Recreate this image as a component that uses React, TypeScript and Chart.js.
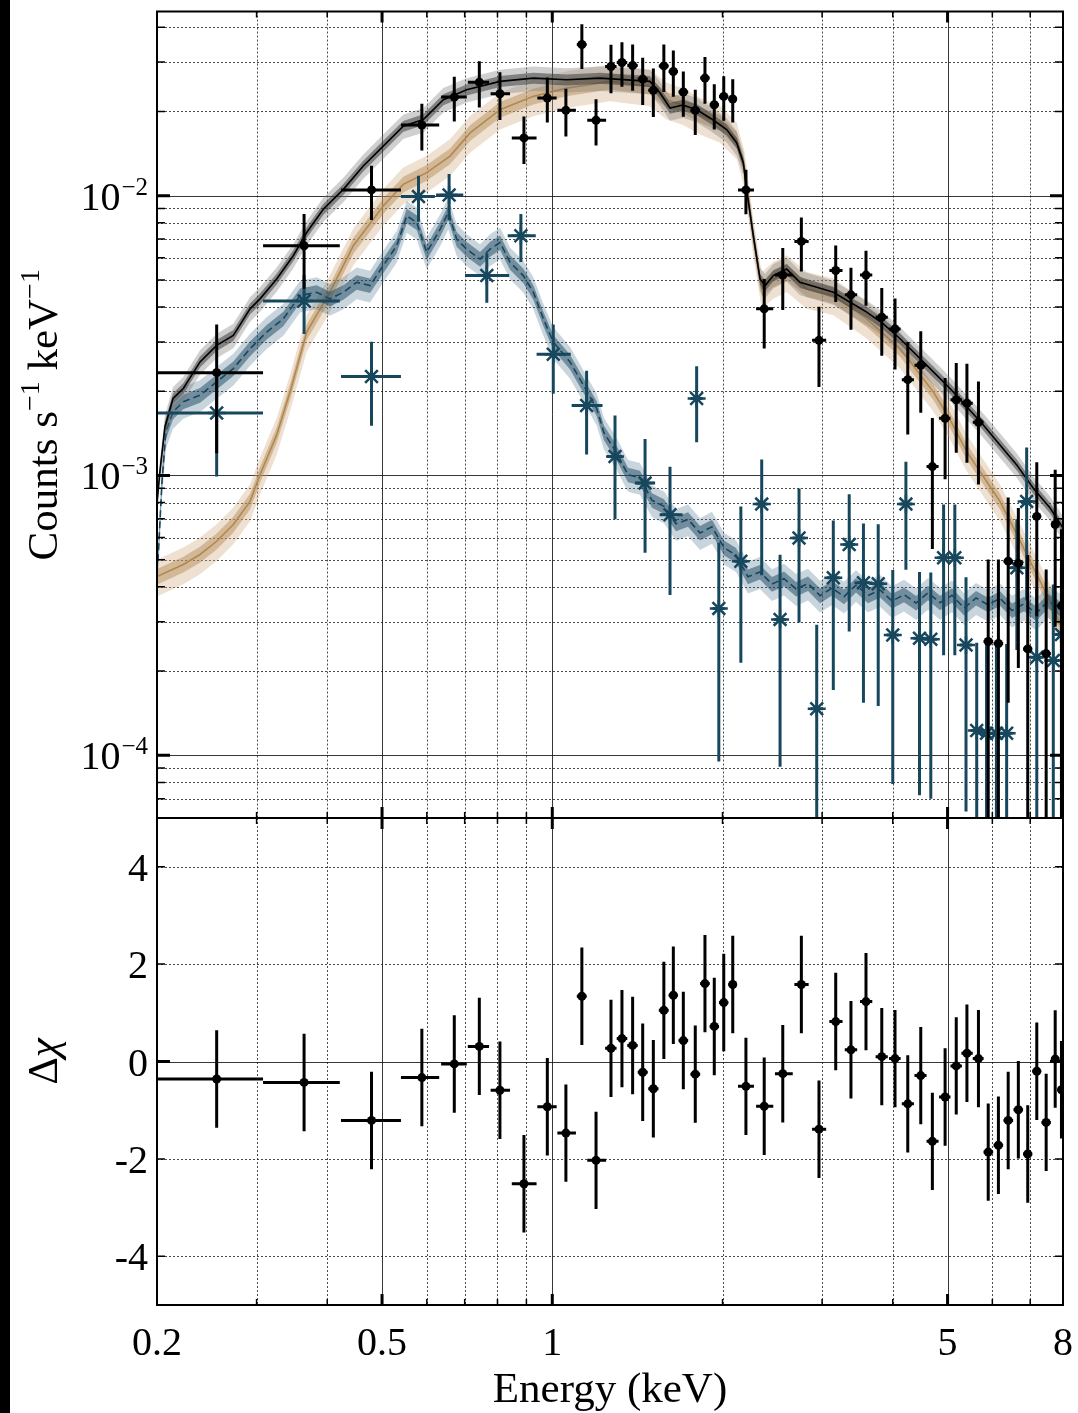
import React, { useEffect, useRef } from "react";
import { Chart, registerables } from "chart.js";

Chart.register(...registerables);

const FONT = "'Liberation Serif', 'DejaVu Serif', serif";
const LABEL_PX = 40;
const SUP_PX = 25;
const TITLE_PX = 43;
const TITLE_SUP_PX = 28;
const BLUE = "#17475d";
const BROWN = "#b08850";

// ---------------- axes ----------------
const X_MIN = 0.2;
const X_MAX = 8;
const Y_MIN = 5.97e-5;
const Y_MAX = 4.55e-2;
const R_MIN = -5;
const R_MAX = 5;

const xMajorTicks = [0.5, 1, 5];
const xMinorTicks = [0.3, 0.4, 0.6, 0.7, 0.8, 0.9, 2, 3, 4, 6, 7];
const xTickLabels = ["0.2", "0.5", "1", "5", "8"];
const xTickValues = [0.2, 0.5, 1, 5, 8];
const yMajorTicks = [1e-4, 1e-3, 1e-2];
const yMinorTicks = [
  7e-5, 8e-5, 9e-5,
  2e-4, 3e-4, 4e-4, 5e-4, 6e-4, 7e-4, 8e-4, 9e-4,
  2e-3, 3e-3, 4e-3, 5e-3, 6e-3, 7e-3, 8e-3, 9e-3,
  2e-2, 3e-2, 4e-2,
];
const yTickExps = [-2, -3, -4];
const rMajorTicks = [0];
const rMinorTicks = [-4, -2, 2, 4];
const rTickValues = [4, 2, 0, -2, -4];
const rTickLabels = ["4", "2", "0", "-2", "-4"];

// ---------------- black data (source) ----------------
const blackE = [0.255, 0.364, 0.479, 0.588, 0.671, 0.743, 0.808, 0.891, 0.98, 1.057, 1.128, 1.195, 1.27, 1.328, 1.387, 1.445, 1.509, 1.575, 1.637, 1.705, 1.79, 1.862, 1.934, 2.01, 2.085, 2.2, 2.37, 2.556, 2.757, 2.962, 3.171, 3.374, 3.587, 3.825, 4.037, 4.252, 4.483, 4.7, 4.95, 5.18, 5.41, 5.67, 5.9, 6.15, 6.4, 6.67, 6.93, 7.19, 7.47, 7.75, 7.95];
const blackElo = [0.2, 0.308, 0.423, 0.54, 0.636, 0.709, 0.778, 0.848, 0.941, 1.021, 1.105, 1.153, 1.24, 1.3, 1.357, 1.416, 1.478, 1.543, 1.606, 1.672, 1.755, 1.826, 1.898, 1.972, 2.048, 2.13, 2.293, 2.476, 2.68, 2.88, 3.09, 3.29, 3.5, 3.73, 3.94, 4.15, 4.37, 4.59, 4.83, 5.06, 5.29, 5.54, 5.79, 6.03, 6.28, 6.54, 6.8, 7.06, 7.33, 7.62, 7.85];
const blackEhi = [0.308, 0.421, 0.54, 0.631, 0.706, 0.773, 0.842, 0.938, 1.018, 1.101, 1.15, 1.245, 1.299, 1.357, 1.416, 1.475, 1.541, 1.606, 1.668, 1.739, 1.826, 1.898, 1.972, 2.048, 2.12, 2.273, 2.459, 2.662, 2.84, 3.05, 3.26, 3.46, 3.68, 3.92, 4.13, 4.36, 4.59, 4.82, 5.06, 5.3, 5.54, 5.79, 6.02, 6.27, 6.53, 6.8, 7.06, 7.32, 7.61, 7.88, 8.0];
const blackF = [2.33e-3, 6.62e-3, 1.048e-2, 1.789e-2, 2.25e-2, 2.544e-2, 2.312e-2, 1.608e-2, 2.234e-2, 2.018e-2, 3.467e-2, 1.86e-2, 2.894e-2, 2.99e-2, 2.918e-2, 2.609e-2, 2.378e-2, 2.908e-2, 2.778e-2, 2.345e-2, 2.018e-2, 2.63e-2, 2.113e-2, 2.263e-2, 2.214e-2, 1.048e-2, 3.94e-3, 5.2e-3, 6.86e-3, 3.04e-3, 5.4e-3, 4.42e-3, 5.2e-3, 3.68e-3, 3.34e-3, 2.2e-3, 2.477e-3, 1.076e-3, 1.6e-3, 1.865e-3, 1.81e-3, 1.548e-3, 2.55e-4, 2.51e-4, 4.94e-4, 4.85e-4, 2.4e-4, 7.14e-4, 2.31e-4, 6.68e-4, 3.42e-4];
const blackDF = [1.13e-3, 1.97e-3, 2.3e-3, 3.4e-3, 4.1e-3, 4.8e-3, 4.5e-3, 3.1e-3, 4.1e-3, 3.9e-3, 6.3e-3, 3.5e-3, 5.7e-3, 5.4e-3, 5.5e-3, 5.0e-3, 4.7e-3, 5.6e-3, 5.2e-3, 4.3e-3, 3.7e-3, 5.0e-3, 3.9e-3, 4.1e-3, 3.9e-3, 1.9e-3, 1.1e-3, 1.3e-3, 1.5e-3, 9.7e-4, 1.23e-3, 1.1e-3, 1.16e-3, 1.0e-3, 9.5e-4, 8.0e-4, 8.0e-4, 5.3e-4, 6.3e-4, 6.6e-4, 7.0e-4, 6.2e-4, 2.46e-4, 2.5e-4, 3.4e-4, 2.8e-4, 2.8e-4, 4.0e-4, 2.3e-4, 3.8e-4, 3.0e-4];
const residuals = [-0.36, -0.43, -1.21, -0.33, -0.05, 0.31, -0.59, -2.51, -0.93, -1.47, 1.34, -2.03, 0.27, 0.47, 0.33, -0.22, -0.56, 1.05, 1.36, 0.43, -0.26, 1.6, 0.72, 1.21, 1.58, -0.51, -0.92, -0.25, 1.58, -1.39, 0.82, 0.24, 1.23, 0.1, 0.06, -0.87, -0.29, -1.64, -0.73, -0.09, 0.17, 0.06, -1.86, -1.72, -1.21, -0.99, -1.9, -0.2, -1.25, 0.05, -0.58];
const RESID_ERR = 1;

// ---------------- blue data (background) ----------------
const blueE = [0.255, 0.364, 0.479, 0.58, 0.657, 0.766, 0.88, 1.004, 1.15, 1.291, 1.459, 1.615, 1.8, 1.97, 2.155, 2.346, 2.528, 2.731, 2.935, 3.14, 3.35, 3.55, 3.77, 4.0, 4.22, 4.46, 4.67, 4.92, 5.15, 5.39, 5.63, 5.86, 6.1, 6.36, 6.63, 6.9, 7.19, 7.69, 7.95];
const blueElo = [0.2, 0.308, 0.423, 0.54, 0.623, 0.701, 0.834, 0.938, 1.082, 1.25, 1.4, 1.548, 1.755, 1.92, 2.1, 2.29, 2.465, 2.66, 2.86, 3.06, 3.27, 3.46, 3.68, 3.9, 4.11, 4.35, 4.55, 4.8, 5.02, 5.25, 5.49, 5.71, 5.95, 6.2, 6.46, 6.73, 7.01, 7.5, 7.75];
const blueEhi = [0.308, 0.421, 0.54, 0.62, 0.696, 0.839, 0.935, 1.078, 1.227, 1.33, 1.52, 1.7, 1.845, 2.02, 2.21, 2.4, 2.59, 2.8, 3.01, 3.22, 3.43, 3.64, 3.86, 4.1, 4.33, 4.57, 4.79, 5.04, 5.28, 5.52, 5.77, 6.01, 6.25, 6.52, 6.8, 7.07, 7.37, 7.88, 8.0];
const blueF = [1.671e-3, 4.2e-3, 2.256e-3, 9.92e-3, 1.006e-2, 5.18e-3, 7.19e-3, 2.71e-3, 1.779e-3, 1.168e-3, 9.39e-4, 7.24e-4, 1.884e-3, 3.35e-4, 4.94e-4, 7.9e-4, 3.06e-4, 5.98e-4, 1.466e-4, 4.31e-4, 5.67e-4, 4.14e-4, 4.1e-4, 2.69e-4, 7.9e-4, 2.62e-4, 2.6e-4, 5.08e-4, 5.08e-4, 2.48e-4, 1.227e-4, 1.2e-4, 1.2e-4, 1.2e-4, 4.68e-4, 8.08e-4, 2.24e-4, 2.18e-4, 2.7e-4];
const blueDF = [6.8e-4, 1.0e-3, 7.5e-4, 1.85e-3, 1.9e-3, 1.04e-3, 1.4e-3, 7.5e-4, 5.9e-4, 4.7e-4, 4.1e-4, 3.5e-4, 5.7e-4, 2.4e-4, 2.8e-4, 3.5e-4, 2.15e-4, 3.0e-4, 1.46e-4, 2.6e-4, 2.9e-4, 2.6e-4, 2.6e-4, 1.9e-4, 3.3e-4, 1.9e-4, 1.9e-4, 2.8e-4, 2.8e-4, 1.85e-4, 1.3e-4, 1.3e-4, 1.3e-4, 1.3e-4, 2.3e-4, 4.5e-4, 1.7e-4, 1.9e-4, 2.0e-4];

// ---------------- models [energy, counts] ----------------
const blackModel: [number, number][] = [
  [0.2, 8.0e-4], [0.2024, 1.033e-3], [0.2066, 1.494e-3], [0.2135, 1.884e-3], [0.2226, 2.045e-3], [0.2383, 2.545e-3],
  [0.255, 2.918e-3], [0.2729, 3.166e-3], [0.2921, 3.94e-3], [0.3042, 4.276e-3], [0.3256, 5.036e-3], [0.3483, 6.1e-3],
  [0.3679, 7.384e-3], [0.3936, 8.937e-3], [0.4271, 1.053e-2], [0.4632, 1.276e-2], [0.5024, 1.503e-2], [0.5451, 1.77e-2],
  [0.5915, 1.869e-2], [0.6418, 2.202e-2], [0.7056, 2.389e-2], [0.8084, 2.56e-2], [0.9258, 2.63e-2], [1.06, 2.594e-2],
  [1.215, 2.63e-2], [1.488, 2.56e-2], [1.551, 2.325e-2], [1.615, 2.056e-2], [1.703, 2.107e-2], [1.801, 2.028e-2],
  [1.901, 1.895e-2], [2.034, 1.722e-2], [2.119, 1.543e-2], [2.177, 1.311e-2], [2.206, 1.053e-2], [2.267, 7.19e-3],
  [2.33, 5.036e-3], [2.378, 4.77e-3], [2.459, 5.18e-3], [2.597, 5.465e-3], [2.742, 4.9e-3], [2.936, 4.706e-3],
  [3.141, 4.517e-3], [3.361, 4.16e-3], [3.598, 3.835e-3], [3.849, 3.483e-3], [4.121, 3.08e-3], [4.41, 2.689e-3],
  [4.719, 2.345e-3], [5.05, 2.045e-3], [5.406, 1.76e-3], [5.783, 1.515e-3], [6.189, 1.286e-3], [6.627, 1.091e-3],
  [7.089, 9.01e-4], [7.59, 7.65e-4], [8.0, 6.49e-4],
];
const brownModel: [number, number][] = [
  [0.2, 4.35e-4], [0.2226, 4.81e-4], [0.2383, 5.22e-4], [0.255, 5.82e-4], [0.2729, 6.68e-4], [0.2921, 8.08e-4],
  [0.3042, 1.006e-3], [0.3256, 1.396e-3], [0.3438, 1.99e-3], [0.3679, 3.254e-3], [0.4044, 4.517e-3], [0.4447, 6.62e-3],
  [0.5024, 9.19e-3], [0.5451, 1.097e-2], [0.5997, 1.208e-2], [0.6595, 1.384e-2], [0.7155, 1.676e-2], [0.8084, 2.028e-2],
  [0.9258, 2.263e-2], [1.06, 2.422e-2], [1.265, 2.56e-2], [1.488, 2.457e-2], [1.593, 2.202e-2], [1.703, 2.102e-2],
  [1.824, 1.947e-2], [1.98, 1.819e-2], [2.119, 1.586e-2], [2.19, 1.24e-2], [2.267, 7.19e-3], [2.346, 4.64e-3],
  [2.459, 5.036e-3], [2.597, 5.32e-3], [2.817, 4.64e-3], [3.141, 4.4e-3], [3.598, 3.63e-3], [4.121, 2.838e-3],
  [4.719, 1.99e-3], [5.05, 1.582e-3], [5.406, 1.217e-3], [5.783, 9.92e-4], [6.189, 8.08e-4], [6.627, 6.17e-4],
  [7.089, 4.68e-4], [7.59, 3.56e-4], [8.0, 2.785e-4],
];
const blueModel: [number, number][] = [
  [0.2008, 4.94e-4], [0.2041, 9.52e-4], [0.2074, 1.434e-3], [0.2135, 1.69e-3], [0.2226, 1.834e-3], [0.2383, 1.937e-3],
  [0.255, 2.16e-3], [0.2729, 2.41e-3], [0.2921, 2.838e-3], [0.3126, 3.254e-3], [0.3345, 3.63e-3], [0.3581, 4.395e-3],
  [0.3832, 4.517e-3], [0.4044, 4.276e-3], [0.4271, 4.517e-3], [0.4509, 4.9e-3], [0.4761, 4.77e-3], [0.5024, 5.62e-3],
  [0.5308, 6.62e-3], [0.5529, 8.47e-3], [0.5758, 8.02e-3], [0.5997, 6.27e-3], [0.6336, 7.59e-3], [0.6546, 8.7e-3],
  [0.6776, 6.99e-3], [0.7056, 6.44e-3], [0.7452, 5.93e-3], [0.7761, 6.44e-3], [0.8084, 6.8e-3], [0.8419, 5.78e-3],
  [0.8884, 5.18e-3], [0.9258, 4.517e-3], [0.9645, 3.63e-3], [1.004, 3.0e-3], [1.075, 2.545e-3], [1.135, 2.102e-3],
  [1.198, 1.736e-3], [1.234, 1.422e-3], [1.296, 1.217e-3], [1.361, 1.006e-3], [1.429, 9.81e-4], [1.501, 8.15e-4],
  [1.576, 7.76e-4], [1.655, 6.72e-4], [1.738, 6.97e-4], [1.825, 6.23e-4], [1.916, 6.56e-4], [2.012, 5.52e-4],
  [2.113, 5.19e-4], [2.218, 4.35e-4], [2.329, 4.52e-4], [2.446, 4.09e-4], [2.569, 4.28e-4], [2.698, 3.93e-4],
  [2.833, 4.11e-4], [2.975, 3.72e-4], [3.124, 3.96e-4], [3.28, 3.69e-4], [3.444, 4.06e-4], [3.616, 3.72e-4],
  [3.798, 3.9e-4], [3.988, 3.56e-4], [4.188, 3.75e-4], [4.398, 3.5e-4], [4.618, 3.81e-4], [4.849, 3.51e-4],
  [5.092, 3.73e-4], [5.348, 3.36e-4], [5.615, 3.65e-4], [5.896, 3.45e-4], [6.191, 3.64e-4], [6.501, 3.29e-4],
  [6.827, 3.48e-4], [7.169, 3.21e-4], [7.528, 3.56e-4], [7.905, 3.35e-4],
];
// relative half-widths of the model uncertainty bands (inner, outer)
const blackBand = [0.045, 0.1];
const brownBand = [0.065, 0.15];
const blueBand = [0.06, 0.13];

// ---------------- helpers ----------------
type ErrSpec = {
  dataset: number; e: number[]; lo: number[]; hi: number[]; v: number[]; dv: number[] | number;
  color: string; width: number;
};

function errPlugin(specs: ErrSpec[]) {
  return {
    id: "errbars",
    beforeDatasetDraw(chart: any, args: any) {
      const spec = specs.find((s) => s.dataset === args.index);
      if (!spec) return;
      const { ctx, chartArea: a, scales } = chart;
      const x = scales.x, y = scales.y;
      const isLog = y.type === "logarithmic";
      ctx.save();
      ctx.beginPath();
      ctx.rect(a.left, a.top, a.right - a.left, a.bottom - a.top);
      ctx.clip();
      ctx.strokeStyle = spec.color;
      ctx.lineWidth = spec.width;
      ctx.lineCap = "butt";
      for (let i = 0; i < spec.e.length; i++) {
        const dv = typeof spec.dv === "number" ? spec.dv : spec.dv[i];
        const px = x.getPixelForValue(spec.e[i]);
        const py = y.getPixelForValue(spec.v[i]);
        const x0 = x.getPixelForValue(spec.lo[i]);
        const x1 = x.getPixelForValue(spec.hi[i]);
        const top = y.getPixelForValue(spec.v[i] + dv);
        const lowV = spec.v[i] - dv;
        const bot = isLog && lowV <= 0 ? a.bottom + 20 : y.getPixelForValue(lowV);
        ctx.beginPath();
        ctx.moveTo(x0, py);
        ctx.lineTo(x1, py);
        ctx.moveTo(px, top);
        ctx.lineTo(px, bot);
        ctx.stroke();
      }
      ctx.restore();
    },
  };
}

type Frame = { xMajor: number[]; xMinor: number[]; yMajor: number[]; yMinor: number[] };

function drawGrid(chart: any, f: Frame) {
  const { ctx, chartArea: a, scales } = chart;
  const x = scales.x, y = scales.y;
  ctx.save();
  ctx.lineWidth = 1;
  ctx.strokeStyle = "rgba(30,30,30,0.8)";
  ctx.setLineDash([2, 2]);
  ctx.beginPath();
  f.xMinor.forEach((v) => {
    const p = Math.round(x.getPixelForValue(v)) + 0.5;
    ctx.moveTo(p, a.top);
    ctx.lineTo(p, a.bottom);
  });
  f.yMinor.forEach((v) => {
    const p = Math.round(y.getPixelForValue(v)) + 0.5;
    ctx.moveTo(a.left, p);
    ctx.lineTo(a.right, p);
  });
  ctx.stroke();
  ctx.setLineDash([]);
  ctx.strokeStyle = "rgba(20,20,20,0.85)";
  ctx.beginPath();
  f.xMajor.forEach((v) => {
    const p = Math.round(x.getPixelForValue(v)) + 0.5;
    ctx.moveTo(p, a.top);
    ctx.lineTo(p, a.bottom);
  });
  f.yMajor.forEach((v) => {
    const p = Math.round(y.getPixelForValue(v)) + 0.5;
    ctx.moveTo(a.left, p);
    ctx.lineTo(a.right, p);
  });
  ctx.stroke();
  ctx.restore();
}

function drawFrameAndTicks(chart: any, f: Frame) {
  const { ctx, chartArea: a, scales } = chart;
  const x = scales.x, y = scales.y;
  ctx.save();
  ctx.strokeStyle = "#000";
  const tickSet = (vals: number[], len: number, w: number, horiz: boolean) => {
    ctx.lineWidth = w;
    ctx.beginPath();
    vals.forEach((v) => {
      if (horiz) {
        const p = x.getPixelForValue(v);
        ctx.moveTo(p, a.top);
        ctx.lineTo(p, a.top + len);
        ctx.moveTo(p, a.bottom);
        ctx.lineTo(p, a.bottom - len);
      } else {
        const p = y.getPixelForValue(v);
        ctx.moveTo(a.left, p);
        ctx.lineTo(a.left + len, p);
        ctx.moveTo(a.right, p);
        ctx.lineTo(a.right - len, p);
      }
    });
    ctx.stroke();
  };
  tickSet(f.xMinor, 6, 1.5, true);
  tickSet(f.xMajor, 11, 3, true);
  tickSet(f.yMinor, 8, 1.5, false);
  tickSet(f.yMajor, 13, 3, false);
  ctx.lineWidth = 2;
  ctx.strokeRect(a.left, a.top, a.right - a.left, a.bottom - a.top);
  ctx.restore();
}

type Piece = { t: string; sup?: boolean; italic?: boolean };

function drawRotatedTitle(ctx: CanvasRenderingContext2D, pieces: Piece[], bx: number, cy: number) {
  ctx.save();
  ctx.translate(bx, cy);
  ctx.rotate(-Math.PI / 2);
  ctx.fillStyle = "#000";
  ctx.textBaseline = "alphabetic";
  ctx.textAlign = "left";
  const fontOf = (p: Piece) => `${p.italic ? "italic " : ""}${p.sup ? TITLE_SUP_PX : TITLE_PX}px ${FONT}`;
  let total = 0;
  const widths = pieces.map((p) => {
    ctx.font = fontOf(p);
    const w = ctx.measureText(p.t).width;
    total += w;
    return w;
  });
  let cx = -total / 2;
  pieces.forEach((p, i) => {
    ctx.font = fontOf(p);
    ctx.fillText(p.t, cx, p.sup ? -18 : 0);
    cx += widths[i];
  });
  ctx.restore();
}

function drawPow(ctx: CanvasRenderingContext2D, exp: number, xr: number, cy: number) {
  const base = "10";
  const sup = "\u2212" + Math.abs(exp);
  ctx.font = `${LABEL_PX}px ${FONT}`;
  const wb = ctx.measureText(base).width;
  ctx.font = `${SUP_PX}px ${FONT}`;
  const ws = ctx.measureText(sup).width;
  ctx.fillStyle = "#000";
  ctx.textAlign = "left";
  ctx.textBaseline = "alphabetic";
  ctx.font = `${LABEL_PX}px ${FONT}`;
  ctx.fillText(base, xr - ws - wb - 1, cy + 14);
  ctx.font = `${SUP_PX}px ${FONT}`;
  ctx.fillText(sup, xr - ws, cy - 1);
}

function bandSets(model: [number, number][], rel: number[], outer: string, inner: string) {
  const mk = (k: number, fill: any, color: string) => ({
    data: model.map(([e, f]) => ({ x: e, y: f * (1 + k) })),
    fill,
    backgroundColor: color,
    borderColor: "rgba(0,0,0,0)",
    borderWidth: 0,
    pointRadius: 0,
    tension: 0,
  });
  return [
    mk(rel[1], "+1", outer),
    mk(-rel[1], false, "rgba(0,0,0,0)"),
    mk(rel[0], "+1", inner),
    mk(-rel[0], false, "rgba(0,0,0,0)"),
  ];
}

function modelLine(model: [number, number][], color: string, dash: number[] = []) {
  return {
    data: model.map(([e, f]) => ({ x: e, y: f })),
    fill: false,
    borderColor: color,
    borderWidth: 1.6,
    borderDash: dash,
    pointRadius: 0,
    tension: 0,
  };
}

function withOrder(ds: any[]) {
  return ds.map((d, i) => ({ ...d, order: ds.length - i }));
}

const baseOptions = (padding: any, yScale: any) => ({
  responsive: false,
  animation: false as const,
  devicePixelRatio: 1,
  events: [] as any[],
  layout: { padding },
  plugins: { legend: { display: false }, tooltip: { enabled: false }, title: { display: false } },
  scales: {
    x: { type: "logarithmic", min: X_MIN, max: X_MAX, bounds: "data", display: false },
    y: yScale,
  },
});

function topConfig(): any {
  const datasets: any[] = [
    ...bandSets(brownModel, brownBand, "rgba(205,170,125,0.35)", "rgba(180,135,80,0.45)"),
    modelLine(brownModel, BROWN),
    ...bandSets(blueModel, blueBand, "rgba(60,105,130,0.28)", "rgba(25,70,95,0.5)"),
    modelLine(blueModel, BLUE, [7, 4]),
    ...bandSets(blackModel, blackBand, "rgba(120,120,120,0.35)", "rgba(50,50,50,0.5)"),
    modelLine(blackModel, "#000"),
  ];
  const blueIdx = datasets.length;
  datasets.push({
    data: blueE.map((e, i) => ({ x: e, y: blueF[i] })),
    showLine: false,
    pointStyle: "star",
    pointRadius: 9,
    pointBorderWidth: 2.5,
    pointBorderColor: BLUE,
    pointBackgroundColor: BLUE,
  });
  const blackIdx = datasets.length;
  datasets.push({
    data: blackE.map((e, i) => ({ x: e, y: blackF[i] })),
    showLine: false,
    pointStyle: "circle",
    pointRadius: 4.5,
    pointBorderWidth: 0,
    pointBorderColor: "#000",
    pointBackgroundColor: "#000",
  });
  const frame: Frame = { xMajor: xMajorTicks, xMinor: xMinorTicks, yMajor: yMajorTicks, yMinor: yMinorTicks };
  return {
    type: "line",
    data: { datasets: withOrder(datasets) },
    options: baseOptions(
      { left: 157, right: 15, top: 8, bottom: 12 },
      { type: "logarithmic", min: Y_MIN, max: Y_MAX, bounds: "data", display: false }
    ),
    plugins: [
      errPlugin([
        { dataset: blueIdx, e: blueE, lo: blueElo, hi: blueEhi, v: blueF, dv: blueDF, color: BLUE, width: 3 },
        { dataset: blackIdx, e: blackE, lo: blackElo, hi: blackEhi, v: blackF, dv: blackDF, color: "#000", width: 3 },
      ]),
      {
        id: "topAxes",
        beforeDatasetsDraw(chart: any) {
          drawGrid(chart, frame);
        },
        afterDraw(chart: any) {
          drawFrameAndTicks(chart, frame);
          const { ctx, chartArea: a, scales } = chart;
          yTickExps.forEach((ex) => drawPow(ctx, ex, 148, scales.y.getPixelForValue(Math.pow(10, ex))));
          drawRotatedTitle(
            ctx,
            [{ t: "Counts s" }, { t: "\u22121", sup: true }, { t: " keV" }, { t: "\u22121", sup: true }],
            57,
            (a.top + a.bottom) / 2
          );
        },
      },
    ],
  };
}

function bottomConfig(): any {
  const datasets: any[] = [
    {
      data: blackE.map((e, i) => ({ x: e, y: residuals[i] })),
      showLine: false,
      pointStyle: "circle",
      pointRadius: 4.5,
      pointBorderWidth: 0,
      pointBorderColor: "#000",
      pointBackgroundColor: "#000",
    },
  ];
  const frame: Frame = { xMajor: xMajorTicks, xMinor: xMinorTicks, yMajor: rMajorTicks, yMinor: rMinorTicks };
  return {
    type: "line",
    data: { datasets: withOrder(datasets) },
    options: baseOptions(
      { left: 157, right: 15, top: 12, bottom: 108 },
      { type: "linear", min: R_MIN, max: R_MAX, bounds: "data", display: false }
    ),
    plugins: [
      errPlugin([
        { dataset: 0, e: blackE, lo: blackElo, hi: blackEhi, v: residuals, dv: RESID_ERR, color: "#000", width: 3 },
      ]),
      {
        id: "botAxes",
        beforeDatasetsDraw(chart: any) {
          drawGrid(chart, frame);
        },
        afterDraw(chart: any) {
          drawFrameAndTicks(chart, frame);
          const { ctx, chartArea: a, scales } = chart;
          ctx.save();
          ctx.fillStyle = "#000";
          ctx.font = `${LABEL_PX}px ${FONT}`;
          ctx.textBaseline = "alphabetic";
          ctx.textAlign = "right";
          rTickValues.forEach((v, i) => ctx.fillText(rTickLabels[i], 148, scales.y.getPixelForValue(v) + 14));
          ctx.textAlign = "center";
          xTickValues.forEach((v, i) => ctx.fillText(xTickLabels[i], scales.x.getPixelForValue(v), a.bottom + 50));
          ctx.font = `${TITLE_PX}px ${FONT}`;
          ctx.fillText("Energy (keV)", (a.left + a.right) / 2, a.bottom + 97);
          ctx.restore();
          drawRotatedTitle(ctx, [{ t: "\u0394" }, { t: "\u03c7", italic: true }], 57, (a.top + a.bottom) / 2);
        },
      },
    ],
  };
}

export default function App() {
  const topRef = useRef<HTMLCanvasElement>(null);
  const botRef = useRef<HTMLCanvasElement>(null);
  useEffect(() => {
    const c1 = new Chart(topRef.current as HTMLCanvasElement, topConfig());
    const c2 = new Chart(botRef.current as HTMLCanvasElement, bottomConfig());
    return () => {
      c1.destroy();
      c2.destroy();
    };
  }, []);
  return (
    <div
      style={{
        position: "absolute",
        left: 0,
        top: 0,
        width: 1078,
        height: 1413,
        background: "#fff",
        overflow: "hidden",
      }}
    >
      <div style={{ position: "absolute", left: 0, top: 0, width: 10, height: 1413, background: "#000" }} />
      <canvas
        ref={topRef}
        width={1078}
        height={830}
        style={{ position: "absolute", left: 0, top: 0, width: 1078, height: 830 }}
      />
      <canvas
        ref={botRef}
        width={1078}
        height={607}
        style={{ position: "absolute", left: 0, top: 806, width: 1078, height: 607 }}
      />
    </div>
  );
}
